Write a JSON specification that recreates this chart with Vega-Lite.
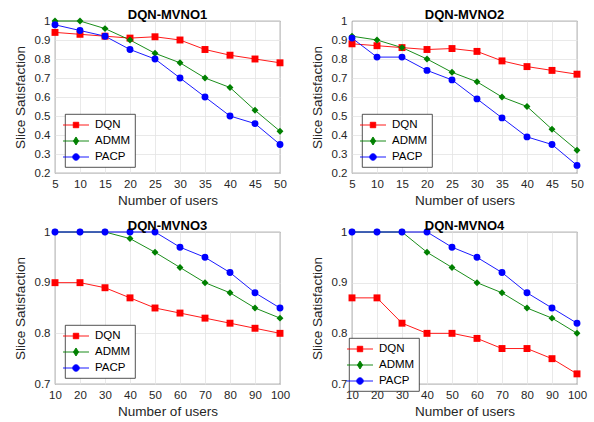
{
  "$schema": "https://vega.github.io/schema/vega-lite/v6.json",
  "background": "white",
  "padding": {"left": 12, "top": 8, "right": 5, "bottom": 4},
  "config": {
    "font": "Liberation Sans",
    "view": {"stroke": "#262626", "strokeWidth": 0.8},
    "axis": {
      "grid": true, "gridColor": "#e3e3e3", "gridWidth": 0.8,
      "domain": false, "ticks": false, "labelPadding": 5,
      "labelOverlap": false, "labelFlush": false, "labelBound": false,
      "labelFont": "Liberation Sans", "labelFontSize": 11.5, "labelColor": "#262626",
      "titleFont": "Liberation Sans", "titleFontSize": 13.5, "titleFontWeight": "normal", "titleColor": "#262626"
    },
    "axisX": {"titlePadding": 4},
    "axisY": {"titlePadding": 7},
    "title": {"font": "Liberation Sans", "fontSize": 13, "fontWeight": "bold", "color": "#000000", "offset": -7},
    "legend": {
      "orient": "none", "title": null, "fillColor": "white", "strokeColor": "#262626", "strokeWidth": 0.8,
      "padding": 4, "labelFontSize": 11.5, "labelFont": "Liberation Sans", "labelColor": "#000000",
      "symbolSize": 169, "labelOffset": 12, "rowPadding": 3
    }
  },
  "data": {"values": [
    {"p": "1", "x": 5, "m": "DQN", "y": 0.94}, {"p": "1", "x": 10, "m": "DQN", "y": 0.93}, {"p": "1", "x": 15, "m": "DQN", "y": 0.92}, {"p": "1", "x": 20, "m": "DQN", "y": 0.91}, {"p": "1", "x": 25, "m": "DQN", "y": 0.917}, {"p": "1", "x": 30, "m": "DQN", "y": 0.90}, {"p": "1", "x": 35, "m": "DQN", "y": 0.85}, {"p": "1", "x": 40, "m": "DQN", "y": 0.82}, {"p": "1", "x": 45, "m": "DQN", "y": 0.80}, {"p": "1", "x": 50, "m": "DQN", "y": 0.78},
    {"p": "1", "x": 5, "m": "ADMM", "y": 1.0}, {"p": "1", "x": 10, "m": "ADMM", "y": 1.0}, {"p": "1", "x": 15, "m": "ADMM", "y": 0.96}, {"p": "1", "x": 20, "m": "ADMM", "y": 0.90}, {"p": "1", "x": 25, "m": "ADMM", "y": 0.83}, {"p": "1", "x": 30, "m": "ADMM", "y": 0.78}, {"p": "1", "x": 35, "m": "ADMM", "y": 0.70}, {"p": "1", "x": 40, "m": "ADMM", "y": 0.65}, {"p": "1", "x": 45, "m": "ADMM", "y": 0.53}, {"p": "1", "x": 50, "m": "ADMM", "y": 0.42},
    {"p": "1", "x": 5, "m": "PACP", "y": 0.98}, {"p": "1", "x": 10, "m": "PACP", "y": 0.95}, {"p": "1", "x": 15, "m": "PACP", "y": 0.92}, {"p": "1", "x": 20, "m": "PACP", "y": 0.85}, {"p": "1", "x": 25, "m": "PACP", "y": 0.80}, {"p": "1", "x": 30, "m": "PACP", "y": 0.70}, {"p": "1", "x": 35, "m": "PACP", "y": 0.60}, {"p": "1", "x": 40, "m": "PACP", "y": 0.50}, {"p": "1", "x": 45, "m": "PACP", "y": 0.46}, {"p": "1", "x": 50, "m": "PACP", "y": 0.35},
    {"p": "2", "x": 5, "m": "DQN", "y": 0.88}, {"p": "2", "x": 10, "m": "DQN", "y": 0.87}, {"p": "2", "x": 15, "m": "DQN", "y": 0.86}, {"p": "2", "x": 20, "m": "DQN", "y": 0.85}, {"p": "2", "x": 25, "m": "DQN", "y": 0.855}, {"p": "2", "x": 30, "m": "DQN", "y": 0.84}, {"p": "2", "x": 35, "m": "DQN", "y": 0.79}, {"p": "2", "x": 40, "m": "DQN", "y": 0.76}, {"p": "2", "x": 45, "m": "DQN", "y": 0.74}, {"p": "2", "x": 50, "m": "DQN", "y": 0.72},
    {"p": "2", "x": 5, "m": "ADMM", "y": 0.92}, {"p": "2", "x": 10, "m": "ADMM", "y": 0.90}, {"p": "2", "x": 15, "m": "ADMM", "y": 0.86}, {"p": "2", "x": 20, "m": "ADMM", "y": 0.80}, {"p": "2", "x": 25, "m": "ADMM", "y": 0.73}, {"p": "2", "x": 30, "m": "ADMM", "y": 0.68}, {"p": "2", "x": 35, "m": "ADMM", "y": 0.60}, {"p": "2", "x": 40, "m": "ADMM", "y": 0.55}, {"p": "2", "x": 45, "m": "ADMM", "y": 0.43}, {"p": "2", "x": 50, "m": "ADMM", "y": 0.32},
    {"p": "2", "x": 5, "m": "PACP", "y": 0.91}, {"p": "2", "x": 10, "m": "PACP", "y": 0.81}, {"p": "2", "x": 15, "m": "PACP", "y": 0.81}, {"p": "2", "x": 20, "m": "PACP", "y": 0.74}, {"p": "2", "x": 25, "m": "PACP", "y": 0.69}, {"p": "2", "x": 30, "m": "PACP", "y": 0.59}, {"p": "2", "x": 35, "m": "PACP", "y": 0.49}, {"p": "2", "x": 40, "m": "PACP", "y": 0.39}, {"p": "2", "x": 45, "m": "PACP", "y": 0.35}, {"p": "2", "x": 50, "m": "PACP", "y": 0.24},
    {"p": "3", "x": 10, "m": "DQN", "y": 0.90}, {"p": "3", "x": 20, "m": "DQN", "y": 0.90}, {"p": "3", "x": 30, "m": "DQN", "y": 0.89}, {"p": "3", "x": 40, "m": "DQN", "y": 0.87}, {"p": "3", "x": 50, "m": "DQN", "y": 0.85}, {"p": "3", "x": 60, "m": "DQN", "y": 0.84}, {"p": "3", "x": 70, "m": "DQN", "y": 0.83}, {"p": "3", "x": 80, "m": "DQN", "y": 0.82}, {"p": "3", "x": 90, "m": "DQN", "y": 0.81}, {"p": "3", "x": 100, "m": "DQN", "y": 0.80},
    {"p": "3", "x": 10, "m": "ADMM", "y": 1.0}, {"p": "3", "x": 20, "m": "ADMM", "y": 1.0}, {"p": "3", "x": 30, "m": "ADMM", "y": 1.0}, {"p": "3", "x": 40, "m": "ADMM", "y": 0.987}, {"p": "3", "x": 50, "m": "ADMM", "y": 0.96}, {"p": "3", "x": 60, "m": "ADMM", "y": 0.93}, {"p": "3", "x": 70, "m": "ADMM", "y": 0.90}, {"p": "3", "x": 80, "m": "ADMM", "y": 0.88}, {"p": "3", "x": 90, "m": "ADMM", "y": 0.85}, {"p": "3", "x": 100, "m": "ADMM", "y": 0.83},
    {"p": "3", "x": 10, "m": "PACP", "y": 1.0}, {"p": "3", "x": 20, "m": "PACP", "y": 1.0}, {"p": "3", "x": 30, "m": "PACP", "y": 1.0}, {"p": "3", "x": 40, "m": "PACP", "y": 1.0}, {"p": "3", "x": 50, "m": "PACP", "y": 1.0}, {"p": "3", "x": 60, "m": "PACP", "y": 0.97}, {"p": "3", "x": 70, "m": "PACP", "y": 0.95}, {"p": "3", "x": 80, "m": "PACP", "y": 0.92}, {"p": "3", "x": 90, "m": "PACP", "y": 0.88}, {"p": "3", "x": 100, "m": "PACP", "y": 0.85},
    {"p": "4", "x": 10, "m": "DQN", "y": 0.87}, {"p": "4", "x": 20, "m": "DQN", "y": 0.87}, {"p": "4", "x": 30, "m": "DQN", "y": 0.82}, {"p": "4", "x": 40, "m": "DQN", "y": 0.80}, {"p": "4", "x": 50, "m": "DQN", "y": 0.80}, {"p": "4", "x": 60, "m": "DQN", "y": 0.79}, {"p": "4", "x": 70, "m": "DQN", "y": 0.77}, {"p": "4", "x": 80, "m": "DQN", "y": 0.77}, {"p": "4", "x": 90, "m": "DQN", "y": 0.75}, {"p": "4", "x": 100, "m": "DQN", "y": 0.72},
    {"p": "4", "x": 10, "m": "ADMM", "y": 1.0}, {"p": "4", "x": 20, "m": "ADMM", "y": 1.0}, {"p": "4", "x": 30, "m": "ADMM", "y": 1.0}, {"p": "4", "x": 40, "m": "ADMM", "y": 0.96}, {"p": "4", "x": 50, "m": "ADMM", "y": 0.93}, {"p": "4", "x": 60, "m": "ADMM", "y": 0.90}, {"p": "4", "x": 70, "m": "ADMM", "y": 0.88}, {"p": "4", "x": 80, "m": "ADMM", "y": 0.85}, {"p": "4", "x": 90, "m": "ADMM", "y": 0.83}, {"p": "4", "x": 100, "m": "ADMM", "y": 0.80},
    {"p": "4", "x": 10, "m": "PACP", "y": 1.0}, {"p": "4", "x": 20, "m": "PACP", "y": 1.0}, {"p": "4", "x": 30, "m": "PACP", "y": 1.0}, {"p": "4", "x": 40, "m": "PACP", "y": 1.0}, {"p": "4", "x": 50, "m": "PACP", "y": 0.97}, {"p": "4", "x": 60, "m": "PACP", "y": 0.95}, {"p": "4", "x": 70, "m": "PACP", "y": 0.92}, {"p": "4", "x": 80, "m": "PACP", "y": 0.88}, {"p": "4", "x": 90, "m": "PACP", "y": 0.85}, {"p": "4", "x": 100, "m": "PACP", "y": 0.82}
  ]},
  "columns": 2,
  "spacing": {"row": 59, "column": 72},
  "bounds": "flush",
  "resolve": {"scale": {"x": "independent", "y": "independent"}, "legend": {"color": "independent", "shape": "independent"}},
  "concat": [
    {
      "title": "DQN-MVNO1", "width": 225, "height": 152,
      "transform": [{"filter": "datum.p == '1'"}],
      "encoding": {
        "x": {"field": "x", "type": "quantitative", "title": "Number of users", "scale": {"domain": [5, 50], "nice": false}, "axis": {"values": [5, 10, 15, 20, 25, 30, 35, 40, 45, 50]}},
        "y": {"field": "y", "type": "quantitative", "title": "Slice Satisfaction", "scale": {"domain": [0.2, 1], "nice": false, "zero": false}, "axis": {"values": [0.2, 0.3, 0.4, 0.5, 0.6, 0.7, 0.8, 0.9, 1], "format": "~g"}},
        "color": {"field": "m", "type": "nominal", "sort": ["DQN", "ADMM", "PACP"], "scale": {"domain": ["DQN", "ADMM", "PACP"], "range": ["#ff0000", "#008000", "#0000ff"]},
          "legend": {"legendX": 10, "legendY": 93, "encode": {"symbols": {"update": {
            "shape": {"signal": "datum.value === 'DQN' ? 'M-2,0H2M-0.42,-0.42H0.42V0.42H-0.42Z' : datum.value === 'ADMM' ? 'M-2,0H2M0,-0.62L0.4,0L0,0.62L-0.4,0Z' : 'M-2,0H2M-0.5,0A0.5,0.5,0,1,0,0.5,0A0.5,0.5,0,1,0,-0.5,0Z'"},
            "stroke": {"signal": "datum.value === 'DQN' ? '#ff0000' : datum.value === 'ADMM' ? '#008000' : '#0000ff'"},
            "fill": {"signal": "datum.value === 'DQN' ? '#ff0000' : datum.value === 'ADMM' ? '#008000' : '#0000ff'"},
            "strokeWidth": {"value": 0.9}, "fillOpacity": {"value": 1}, "strokeOpacity": {"value": 1}}}}}}
      },
      "layer": [
        {"mark": {"type": "line", "strokeWidth": 0.9}},
        {"mark": {"type": "point", "filled": true, "size": 48, "opacity": 1}, "encoding": {"shape": {"field": "m", "type": "nominal", "scale": {"domain": ["ADMM", "DQN", "PACP"], "range": ["diamond", "square", "circle"]}, "legend": null}}}
      ]
    },
    {
      "title": "DQN-MVNO2", "width": 225, "height": 152,
      "transform": [{"filter": "datum.p == '2'"}],
      "encoding": {
        "x": {"field": "x", "type": "quantitative", "title": "Number of users", "scale": {"domain": [5, 50], "nice": false}, "axis": {"values": [5, 10, 15, 20, 25, 30, 35, 40, 45, 50]}},
        "y": {"field": "y", "type": "quantitative", "title": "Slice Satisfaction", "scale": {"domain": [0.2, 1], "nice": false, "zero": false}, "axis": {"values": [0.2, 0.3, 0.4, 0.5, 0.6, 0.7, 0.8, 0.9, 1], "format": "~g"}},
        "color": {"field": "m", "type": "nominal", "sort": ["DQN", "ADMM", "PACP"], "scale": {"domain": ["DQN", "ADMM", "PACP"], "range": ["#ff0000", "#008000", "#0000ff"]},
          "legend": {"legendX": 10, "legendY": 93, "encode": {"symbols": {"update": {
            "shape": {"signal": "datum.value === 'DQN' ? 'M-2,0H2M-0.42,-0.42H0.42V0.42H-0.42Z' : datum.value === 'ADMM' ? 'M-2,0H2M0,-0.62L0.4,0L0,0.62L-0.4,0Z' : 'M-2,0H2M-0.5,0A0.5,0.5,0,1,0,0.5,0A0.5,0.5,0,1,0,-0.5,0Z'"},
            "stroke": {"signal": "datum.value === 'DQN' ? '#ff0000' : datum.value === 'ADMM' ? '#008000' : '#0000ff'"},
            "fill": {"signal": "datum.value === 'DQN' ? '#ff0000' : datum.value === 'ADMM' ? '#008000' : '#0000ff'"},
            "strokeWidth": {"value": 0.9}, "fillOpacity": {"value": 1}, "strokeOpacity": {"value": 1}}}}}}
      },
      "layer": [
        {"mark": {"type": "line", "strokeWidth": 0.9}},
        {"mark": {"type": "point", "filled": true, "size": 48, "opacity": 1}, "encoding": {"shape": {"field": "m", "type": "nominal", "scale": {"domain": ["ADMM", "DQN", "PACP"], "range": ["diamond", "square", "circle"]}, "legend": null}}}
      ]
    },
    {
      "title": "DQN-MVNO3", "width": 225, "height": 152,
      "transform": [{"filter": "datum.p == '3'"}],
      "encoding": {
        "x": {"field": "x", "type": "quantitative", "title": "Number of users", "scale": {"domain": [10, 100], "nice": false}, "axis": {"values": [10, 20, 30, 40, 50, 60, 70, 80, 90, 100]}},
        "y": {"field": "y", "type": "quantitative", "title": "Slice Satisfaction", "scale": {"domain": [0.7, 1], "nice": false, "zero": false}, "axis": {"values": [0.7, 0.8, 0.9, 1], "format": "~g"}},
        "color": {"field": "m", "type": "nominal", "sort": ["DQN", "ADMM", "PACP"], "scale": {"domain": ["DQN", "ADMM", "PACP"], "range": ["#ff0000", "#008000", "#0000ff"]},
          "legend": {"legendX": 10, "legendY": 93, "encode": {"symbols": {"update": {
            "shape": {"signal": "datum.value === 'DQN' ? 'M-2,0H2M-0.42,-0.42H0.42V0.42H-0.42Z' : datum.value === 'ADMM' ? 'M-2,0H2M0,-0.62L0.4,0L0,0.62L-0.4,0Z' : 'M-2,0H2M-0.5,0A0.5,0.5,0,1,0,0.5,0A0.5,0.5,0,1,0,-0.5,0Z'"},
            "stroke": {"signal": "datum.value === 'DQN' ? '#ff0000' : datum.value === 'ADMM' ? '#008000' : '#0000ff'"},
            "fill": {"signal": "datum.value === 'DQN' ? '#ff0000' : datum.value === 'ADMM' ? '#008000' : '#0000ff'"},
            "strokeWidth": {"value": 0.9}, "fillOpacity": {"value": 1}, "strokeOpacity": {"value": 1}}}}}}
      },
      "layer": [
        {"mark": {"type": "line", "strokeWidth": 0.9}},
        {"mark": {"type": "point", "filled": true, "size": 48, "opacity": 1}, "encoding": {"shape": {"field": "m", "type": "nominal", "scale": {"domain": ["ADMM", "DQN", "PACP"], "range": ["diamond", "square", "circle"]}, "legend": null}}}
      ]
    },
    {
      "title": "DQN-MVNO4", "width": 225, "height": 152,
      "transform": [{"filter": "datum.p == '4'"}],
      "encoding": {
        "x": {"field": "x", "type": "quantitative", "title": "Number of users", "scale": {"domain": [10, 100], "nice": false}, "axis": {"values": [10, 20, 30, 40, 50, 60, 70, 80, 90, 100]}},
        "y": {"field": "y", "type": "quantitative", "title": "Slice Satisfaction", "scale": {"domain": [0.7, 1], "nice": false, "zero": false}, "axis": {"values": [0.7, 0.8, 0.9, 1], "format": "~g"}},
        "color": {"field": "m", "type": "nominal", "sort": ["DQN", "ADMM", "PACP"], "scale": {"domain": ["DQN", "ADMM", "PACP"], "range": ["#ff0000", "#008000", "#0000ff"]},
          "legend": {"legendX": -3, "legendY": 106, "encode": {"symbols": {"update": {
            "shape": {"signal": "datum.value === 'DQN' ? 'M-2,0H2M-0.42,-0.42H0.42V0.42H-0.42Z' : datum.value === 'ADMM' ? 'M-2,0H2M0,-0.62L0.4,0L0,0.62L-0.4,0Z' : 'M-2,0H2M-0.5,0A0.5,0.5,0,1,0,0.5,0A0.5,0.5,0,1,0,-0.5,0Z'"},
            "stroke": {"signal": "datum.value === 'DQN' ? '#ff0000' : datum.value === 'ADMM' ? '#008000' : '#0000ff'"},
            "fill": {"signal": "datum.value === 'DQN' ? '#ff0000' : datum.value === 'ADMM' ? '#008000' : '#0000ff'"},
            "strokeWidth": {"value": 0.9}, "fillOpacity": {"value": 1}, "strokeOpacity": {"value": 1}}}}}}
      },
      "layer": [
        {"mark": {"type": "line", "strokeWidth": 0.9}},
        {"mark": {"type": "point", "filled": true, "size": 48, "opacity": 1}, "encoding": {"shape": {"field": "m", "type": "nominal", "scale": {"domain": ["ADMM", "DQN", "PACP"], "range": ["diamond", "square", "circle"]}, "legend": null}}}
      ]
    }
  ]
}
